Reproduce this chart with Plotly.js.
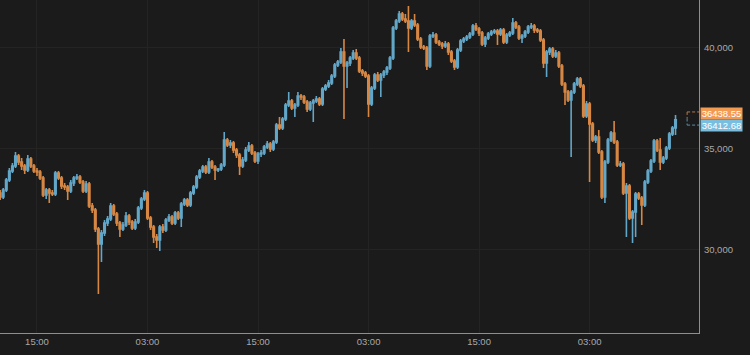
<!DOCTYPE html>
<html><head><meta charset="utf-8">
<script src="https://cdn.plot.ly/plotly-3.0.1.min.js"></script>
<style>html,body{margin:0;padding:0;background:#1b1b1b;}#chart{width:750px;height:355px;}</style>
</head><body><div id="chart"></div>
<script>
const startUTC = Date.UTC(2022, 0, 10, 11, 0);
const intervalMinutes = 20;

const openPrices = [
32788,32590,32936,33431,33877,34124,34619,34322,34124,33926,
34471,34124,33877,33827,33530,32689,32936,32788,32738,33778,
33530,33134,33085,32887,33283,33530,33580,33332,32887,33233,
32144,31946,31005,30263,30807,31302,31500,32144,31748,31302,
31005,31203,31649,31352,31055,31352,32045,32490,32788,31550,
31104,30609,30461,31104,30956,31451,31599,31302,31797,31550,
32243,32441,32193,32788,33085,33580,33877,34075,33827,34322,
34075,33926,33976,34174,35411,35164,35263,34916,34669,34124,
34421,34916,35114,34768,34372,34718,34768,35065,35213,34966,
35312,36154,36005,36451,37144,37342,36995,37144,37589,37540,
37292,36946,37243,37342,37441,37193,37936,38084,38233,38579,
39124,39272,39767,39074,39223,39470,39718,39470,38827,38728,
38579,37193,37985,38629,38381,38629,38777,38975,39470,40955,
41302,41648,41401,41302,40955,41302,41104,40410,40014,39965,
39074,40559,40608,40262,40163,40064,40163,39767,39322,39025,
39866,40311,40410,40509,40658,41054,40906,40708,40163,40460,
40658,40757,40807,40658,40856,40262,40608,40708,41203,41005,
40460,40559,40757,41005,41054,40856,40807,40361,39223,39767,
39915,39569,39718,39074,38183,37787,37391,37787,38183,38431,
38084,36599,37193,36203,35411,35560,34817,32590,34322,35411,
35758,35312,34174,34223,32788,33134,31550,31847,32738,32540,
32193,33332,33877,34372,35362,34916,34322,34520,35015,35708,
36005];

const highPrices = [
32936,33035,33530,34025,34273,34817,34718,34520,34223,34669,
34570,34223,34025,33926,33629,33035,33035,32936,33877,33877,
33629,33283,33184,33431,33629,33728,33679,33431,33382,33332,
32292,32045,31104,30956,31451,31649,32292,32243,31847,31401,
31352,31847,31748,31451,31500,32144,32590,32936,32887,31649,
31203,30758,31203,31253,31550,31748,31698,31896,31896,32342,
32540,32540,32887,33184,33679,33976,34174,34174,34520,34421,
34174,34025,34273,35807,35510,35411,35362,35015,34768,34570,
35065,35312,35213,34867,34817,34916,35164,35362,35312,35411,
36253,36550,36550,37243,37787,37441,37243,37787,37688,37639,
37391,37342,37441,37589,37540,38035,38183,38381,38678,39223,
39371,39965,40410,39322,39569,39866,39915,39569,38926,38827,
38678,38084,38728,38777,38728,38876,39074,39569,41054,41401,
41796,41747,41648,42044,41401,41648,41203,40509,40113,40064,
40658,40757,40708,40361,40262,40311,40262,39866,39421,39965,
40410,40509,40608,40757,41153,41203,41005,40807,40559,40757,
40856,40906,40906,40955,40955,40708,40807,41450,41302,41104,
40658,40856,41104,41203,41153,40955,40906,40460,39866,40014,
40014,39866,39817,39173,38282,37886,37886,38282,38530,38530,
38183,37342,37292,36302,35659,35906,34916,34421,35510,35857,
36352,35411,34372,34322,33283,33233,31946,32837,32837,32639,
33431,33976,34471,35461,35461,35510,34619,35114,35807,36104,
36649];

const lowPrices = [
32441,32490,32837,33332,33778,34025,34174,33926,33728,33827,
34025,33778,33629,33431,32590,32490,32292,32639,32639,33431,
32986,32936,32441,32788,33134,33431,33233,32788,32788,32045,
31797,30857,27788,29372,30659,31154,31401,31649,31154,30609,
30906,31104,31203,30956,30956,31253,31946,32391,31451,30956,
30313,30065,29917,30807,30857,31352,31203,31203,31451,31104,
32144,32094,32094,32689,32986,33481,33778,33728,33728,33976,
33431,33827,33877,34075,35065,35015,34768,34520,33679,34025,
34322,34817,34669,34273,34223,34570,34669,34966,34817,34867,
35213,35906,35906,36352,37045,36896,36550,37045,37391,37193,
36797,36847,36302,37243,37094,37094,37837,37985,38134,38480,
39025,39173,36451,37985,39074,39371,39371,38728,38579,38480,
36550,37094,37886,38282,37540,38480,38629,38876,39371,40856,
41203,41302,41203,39767,40856,41005,40311,39915,39866,38876,
38975,40460,40163,40064,39915,39965,39619,39223,38876,38926,
39767,40212,40311,40410,40559,40807,40559,40064,40014,40361,
40559,40658,40113,40559,40163,40163,40509,40608,40906,40361,
40212,40460,40658,40906,40708,40708,40262,38975,38530,39619,
39470,39470,38975,38084,37144,37292,34570,37688,38084,37985,
36500,36500,33332,35312,35263,34718,32490,32292,34223,35312,
35213,34075,34075,32689,30609,31451,30313,30609,32441,31203,
32094,33233,33778,34273,34817,33926,34223,34421,34916,35609,
35659];

const closePrices = [
32590,32936,33431,33877,34124,34619,34322,34124,33926,34471,
34124,33877,33827,33530,32689,32936,32788,32738,33778,33530,
33134,33085,32887,33283,33530,33580,33332,32887,33233,32144,
31946,31005,30263,30807,31302,31500,32144,31748,31302,31005,
31203,31649,31352,31055,31352,32045,32490,32788,31550,31104,
30609,30461,31104,30956,31451,31599,31302,31797,31550,32243,
32441,32193,32788,33085,33580,33877,34075,33827,34322,34075,
33926,33976,34174,35411,35164,35263,34916,34669,34124,34421,
34916,35114,34768,34372,34718,34768,35065,35213,34966,35312,
36154,36005,36451,37144,37342,36995,37144,37589,37540,37292,
36946,37243,37342,37441,37193,37936,38084,38233,38579,39124,
39272,39767,39074,39223,39470,39718,39470,38827,38728,38579,
37193,37985,38629,38381,38629,38777,38975,39470,40955,41302,
41648,41401,41302,40955,41302,41104,40410,40014,39965,39074,
40559,40608,40262,40163,40064,40163,39767,39322,39025,39866,
40311,40410,40509,40658,41054,40906,40708,40163,40460,40658,
40757,40807,40658,40856,40262,40608,40708,41203,41005,40460,
40559,40757,41005,41054,40856,40807,40361,39223,39767,39915,
39569,39718,39074,38183,37787,37391,37787,38183,38431,38084,
36599,37193,36203,35411,35560,34817,32590,34322,35411,35758,
35312,34174,34223,32788,33134,31550,31847,32738,32540,32193,
33332,33877,34372,35362,34916,34322,34520,35015,35708,36005,
36412.68];

const lastPriceOrange = 36438.55;
const lastPriceBlue = 36412.68;
const ghostHigh = 36800;
const ghostLow = 36150;
const yTickValues = [30000, 35000, 40000];
const xRange = ['2022-01-10 10:59', '2022-01-13 14:53'];
const yRange = [25860, 42340];

const ORANGE = '#f39a52';
const BLUE = '#79bedf';

function stamp(ms) { return new Date(ms).toISOString().slice(0, 19).replace('T', ' '); }
const times = closePrices.map((_, i) => stamp(startUTC + i * intervalMinutes * 60000));

const trace = {
  type: 'candlestick',
  x: times, open: openPrices, high: highPrices, low: lowPrices, close: closePrices,
  increasing: { line: { color: '#62a6c8', width: 1.6 }, fillcolor: BLUE },
  decreasing: { line: { color: '#d78744', width: 1.6 }, fillcolor: ORANGE },
  whiskerwidth: 0,
  hoverinfo: 'skip',
  showlegend: false
};

const tickFont = { family: 'Liberation Sans, Arial, sans-serif', size: 9.5, color: '#a9a9a9' };

const layout = {
  width: 750, height: 355,
  margin: { l: 0, r: 51, t: 0, b: 22, pad: 0 },
  paper_bgcolor: '#1b1b1b', plot_bgcolor: '#1b1b1b',
  showlegend: false, hovermode: false,
  xaxis: {
    type: 'date', range: xRange, rangeslider: { visible: false },
    tickformat: '%H:%M', dtick: 43200000, tick0: '2022-01-10 03:00',
    showgrid: true, gridcolor: '#242424', gridwidth: 1,
    showline: true, linecolor: '#8e8e8e', linewidth: 1,
    ticks: '', tickfont: tickFont, zeroline: false, fixedrange: true
  },
  yaxis: {
    side: 'right', range: yRange, tickvals: yTickValues, tickformat: ',d',
    showgrid: true, gridcolor: '#242424', gridwidth: 1,
    showline: true, linecolor: '#8e8e8e', linewidth: 1,
    ticks: '', tickfont: tickFont, zeroline: false, fixedrange: true,
    ticklabelstandoff: 2
  },
  shapes: [
    { type: 'line', xref: 'paper', yref: 'y', x0: 0.983, x1: 1, y0: ghostHigh, y1: ghostHigh, line: { color: '#b87a45', width: 1, dash: '3px,2px' } },
    { type: 'line', xref: 'paper', yref: 'y', x0: 0.983, x1: 1, y0: ghostLow, y1: ghostLow, line: { color: '#5a90ab', width: 1, dash: '3px,2px' } },
    { type: 'line', xref: 'paper', yref: 'y', x0: 0.983, x1: 0.983, y0: ghostHigh, y1: (ghostHigh + ghostLow) / 2, line: { color: '#b87a45', width: 1, dash: '3px,2px' } },
    { type: 'line', xref: 'paper', yref: 'y', x0: 0.983, x1: 0.983, y0: (ghostHigh + ghostLow) / 2, y1: ghostLow, line: { color: '#5a90ab', width: 1, dash: '3px,2px' } }
  ],
  annotations: [
    { xref: 'paper', yref: 'y', x: 1, y: lastPriceOrange, xanchor: 'left', yanchor: 'middle', xshift: 1, yshift: 6,
      text: lastPriceOrange.toFixed(2), showarrow: false, bgcolor: ORANGE, width: 41, height: 11, borderpad: 0, align: 'center',
      font: { family: 'Liberation Sans, Arial, sans-serif', size: 9.5, color: '#ffffff' } },
    { xref: 'paper', yref: 'y', x: 1, y: lastPriceBlue, xanchor: 'left', yanchor: 'middle', xshift: 1, yshift: -6,
      text: lastPriceBlue.toFixed(2), showarrow: false, bgcolor: BLUE, width: 41, height: 11, borderpad: 0, align: 'center',
      font: { family: 'Liberation Sans, Arial, sans-serif', size: 9.5, color: '#ffffff' } }
  ]
};

Plotly.newPlot('chart', [trace], layout, { displayModeBar: false, staticPlot: true });
</script>
</body></html>
